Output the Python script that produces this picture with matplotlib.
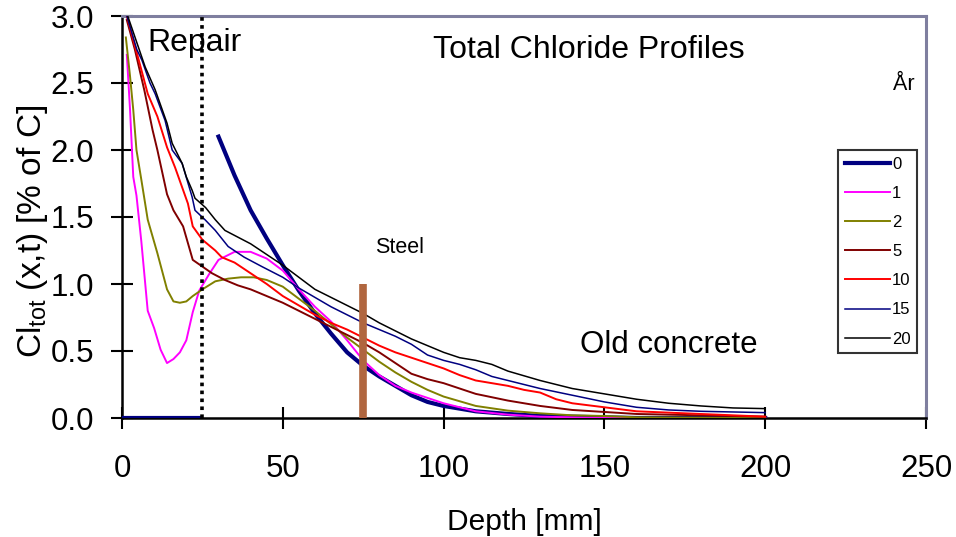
import numpy as np
import matplotlib
matplotlib.use("Agg")
import matplotlib.pyplot as plt

plt.rcParams['font.family'] = ['Liberation Sans', 'DejaVu Sans']
plt.rcParams['mathtext.fontset'] = 'custom'
plt.rcParams['mathtext.rm'] = 'Liberation Sans'
plt.rcParams['mathtext.it'] = 'Liberation Sans:italic'

# ---- data (depth in mm, total chloride in % of C) ----
years = ["0", "1", "2", "5", "10", "15", "20"]

x0 = [0, 5, 10, 15, 20, 24, np.nan, 30, 35, 40, 45, 50, 55, 60, 65, 70, 75, 80, 85, 90, 95, 100,
      110, 120, 130, 140, 150, 160, 180, 200]
y0 = [0, 0, 0, 0, 0, 0, np.nan, 2.10, 1.81, 1.55, 1.34, 1.14, 0.95, 0.78, 0.63, 0.49, 0.39, 0.31,
      0.24, 0.17, 0.12, 0.09, 0.05, 0.03, 0.015, 0.01, 0.005, 0, 0, 0]

x1 = [1.5, 2.5, 3.5, 4.5, 6, 8, 10, 12, 14, 16, 18, 20, 22, 24, 27, 30, 35, 40, 45, 50, 55, 60,
      65, 70, 75, 80, 85, 90, 95, 100, 110, 120, 130, 140, 150, 200]
y1 = [2.71, 2.30, 1.80, 1.66, 1.32, 0.80, 0.67, 0.51, 0.41, 0.44, 0.49, 0.58, 0.79, 0.95, 1.07,
      1.18, 1.24, 1.24, 1.19, 1.10, 0.96, 0.83, 0.72, 0.58, 0.43, 0.32, 0.24, 0.19, 0.15, 0.11,
      0.05, 0.025, 0.01, 0.005, 0, 0]

x2 = [1.2, 2.5, 3.5, 4.5, 6, 8, 11, 14, 16, 18, 20, 22, 25, 29, 33, 37, 41, 45, 50, 55, 60, 65,
      70, 75, 80, 85, 90, 95, 100, 110, 120, 130, 140, 150, 160, 200]
y2 = [2.84, 2.55, 2.30, 2.00, 1.78, 1.48, 1.23, 0.96, 0.87, 0.86, 0.87, 0.91, 0.96, 1.02, 1.04,
      1.05, 1.05, 1.03, 0.98, 0.89, 0.80, 0.70, 0.60, 0.51, 0.42, 0.34, 0.27, 0.21, 0.16, 0.09,
      0.055, 0.035, 0.02, 0.015, 0.005, 0]

x5 = [1.5, 4, 7, 9.5, 11, 14, 16, 19, 22, 25, 28, 32, 36, 40, 45, 50, 55, 60, 65, 70, 75, 80, 85,
      90, 95, 100, 105, 110, 120, 130, 140, 150, 160, 180, 200]
y5 = [2.97, 2.75, 2.44, 2.15, 2.00, 1.67, 1.55, 1.43, 1.18, 1.13, 1.08, 1.03, 0.99, 0.96, 0.91,
      0.86, 0.80, 0.74, 0.68, 0.62, 0.56, 0.49, 0.41, 0.33, 0.29, 0.26, 0.22, 0.18, 0.13, 0.09,
      0.06, 0.045, 0.03, 0.02, 0.01]

x10 = [1.5, 5, 8, 11, 14, 16.5, 20.5, 22, 25, 29, 31, 35, 40, 45, 50, 55, 60, 65, 70, 75, 80, 85,
       90, 95, 100, 105, 110, 115, 120, 125, 130, 135, 140, 150, 160, 180, 200]
y10 = [3.00, 2.69, 2.42, 2.25, 2.02, 1.87, 1.60, 1.43, 1.33, 1.25, 1.20, 1.16, 1.08, 1.00, 0.91,
       0.84, 0.77, 0.71, 0.66, 0.60, 0.54, 0.49, 0.45, 0.41, 0.37, 0.32, 0.28, 0.26, 0.24, 0.21,
       0.19, 0.14, 0.11, 0.08, 0.05, 0.03, 0.01]

x15 = [1.5, 4.6, 6.2, 8.7, 10.3, 13.4, 15.6, 18.7, 21.8, 22.7, 25.8, 29, 33, 38, 43.5, 50, 55, 60,
       65, 70, 75, 80, 85, 90, 95, 100, 105, 110, 115, 120, 130, 140, 150, 160, 170, 180, 200]
y15 = [3.00, 2.75, 2.67, 2.50, 2.42, 2.22, 2.00, 1.90, 1.65, 1.55, 1.48, 1.40, 1.28, 1.20, 1.13,
       1.05, 0.97, 0.90, 0.83, 0.77, 0.71, 0.66, 0.61, 0.55, 0.47, 0.43, 0.40, 0.36, 0.31, 0.28,
       0.22, 0.17, 0.12, 0.08, 0.06, 0.05, 0.04]

x20 = [1.5, 7.2, 10.3, 14, 15.6, 18.7, 20, 21.8, 22.7, 26, 29, 32, 40, 45, 50, 55, 60, 65, 70, 75,
       80, 85, 90, 95, 100, 105, 110, 115, 120, 130, 140, 150, 160, 170, 180, 190, 200]
y20 = [3.02, 2.62, 2.45, 2.20, 2.05, 1.90, 1.80, 1.70, 1.64, 1.57, 1.48, 1.40, 1.30, 1.22, 1.14,
       1.05, 0.96, 0.90, 0.84, 0.78, 0.71, 0.65, 0.59, 0.54, 0.49, 0.45, 0.43, 0.40, 0.35, 0.28,
       0.22, 0.18, 0.14, 0.11, 0.09, 0.075, 0.07]

repair_depth = 25
steel_depth = 75
steel_height = 1.0

xticks = [0, 50, 100, 150, 200, 250]
yticks = [0.0, 0.5, 1.0, 1.5, 2.0, 2.5, 3.0]

# ---- figure ----
fig = plt.figure(figsize=(9.56, 5.37), dpi=100)
ax = fig.add_axes([122/956, 1-418/537, (926-122)/956, (418-16)/537])

series = [(x0, y0, '#000080', 3.0), (x1, y1, '#FF00FF', 1.4), (x2, y2, '#808000', 1.4),
          (x5, y5, '#800000', 1.4), (x10, y10, '#FF0000', 1.4), (x15, y15, '#000080', 1.1),
          (x20, y20, '#000000', 1.1)]
handles = []
for (xs, ys, c, lw), lab in zip(series, years):
    h, = ax.plot(xs, ys, color=c, lw=lw, label=lab, zorder=3, solid_joinstyle='round')
    handles.append(h)

ax.plot([repair_depth, repair_depth], [0, 3.0], color='black', lw=2.6,
        linestyle=(0, (1.0, 1.2)), zorder=4)
ax.plot([steel_depth, steel_depth], [0, steel_height], color='#B0663F', lw=5.5,
        solid_capstyle='butt', zorder=5)

ax.set_xlim(0, 250)
ax.set_ylim(0, 3.0)
ax.set_xticks(xticks)
ax.set_yticks(yticks)
ax.set_xticklabels([str(t) for t in xticks])
ax.set_yticklabels([f"{t:.1f}" for t in yticks])
ax.tick_params(axis='both', direction='inout', length=16, width=1.5, labelsize=22.5,
               color='black')
ax.tick_params(axis='x', pad=18)
ax.tick_params(axis='y', pad=12)

for s in ['left', 'bottom']:
    ax.spines[s].set_color('black')
    ax.spines[s].set_linewidth(1.8)
for s in ['top', 'right']:
    ax.spines[s].set_color('#7F7F9F')
    ax.spines[s].set_linewidth(2.2)

ax.set_xlabel('Depth [mm]', fontsize=21.5)
ax.xaxis.set_label_coords(0.5, -0.225)
ax.set_ylabel(r'Cl$_{\mathrm{tot}}$ (x,t) [% of C]', fontsize=24)
ax.yaxis.set_label_coords(-0.09, 0.465)

ax.text(7.8, 2.80, 'Repair', fontsize=23, ha='left', va='center')
ax.text(145, 2.75, 'Total Chloride Profiles', fontsize=23, ha='center', va='center')
ax.text(86.2, 1.27, 'Steel', fontsize=15.5, ha='center', va='center')
ax.text(170, 0.545, 'Old concrete', fontsize=22.5, ha='center', va='center')
ax.text(243, 2.49, 'År', fontsize=15.5, ha='center', va='center')

leg = fig.legend(handles=handles, labels=years, loc='upper left',
                 bbox_to_anchor=(838/956, 1-150/537), fontsize=12, frameon=True,
                 fancybox=False, handlelength=2.7, handletextpad=0.15, labelspacing=0.85,
                 borderpad=0.4, borderaxespad=0)
leg.get_frame().set_edgecolor('black')
leg.get_frame().set_linewidth(1.5)

fig.savefig('out.png', dpi=100)
